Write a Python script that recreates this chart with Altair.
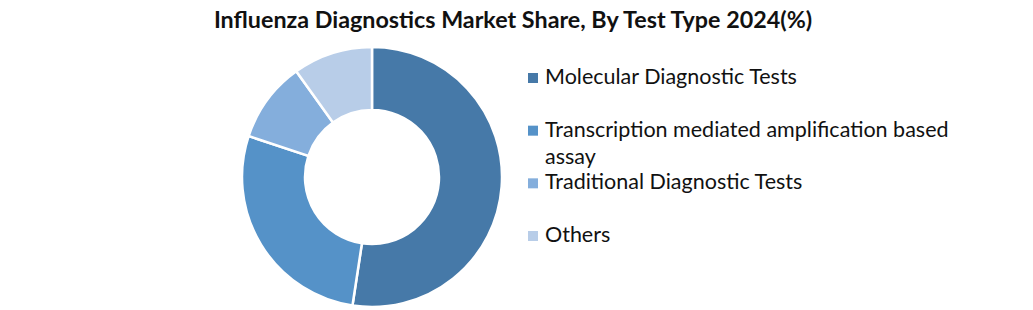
import altair as alt
import pandas as pd

categories = [
    "Molecular Diagnostic Tests",
    "Transcription mediated amplification based assay",
    "Traditional Diagnostic Tests",
    "Others",
]
legend_labels = [
    "Molecular Diagnostic Tests",
    "Transcription mediated amplification based\nassay",
    "Traditional Diagnostic Tests",
    "Others",
]
shares = [52.4, 27.7, 10.0, 9.9]
ranks = [1, 2, 3, 4]
colors = ["#4679A8", "#5592C8", "#84AEDC", "#B8CDE8"]

df = pd.DataFrame(
    {"category": categories, "label": legend_labels, "share": shares, "rank": ranks}
)

color_enc = alt.Color(
    "category:N",
    sort=categories,
    scale=alt.Scale(domain=categories, range=colors),
    legend=None,
)

base = alt.Chart(df)

donut = base.mark_arc(
    innerRadius=67, outerRadius=130, stroke="white", strokeWidth=2.5
).encode(
    theta=alt.Theta("share:Q", stack=True),
    order=alt.Order("rank:Q"),
    color=color_enc,
)

legend_y = alt.Y(
    "category:N",
    sort=categories,
    scale=alt.Scale(type="point", domain=categories, range=[38, 196], padding=0),
    axis=None,
)

legend_marks = base.mark_square(size=100, opacity=1).encode(
    x=alt.value(533),
    y=legend_y,
    color=color_enc,
)

legend_text = base.mark_text(
    align="left",
    baseline="middle",
    font="Lato",
    fontSize=21.5,
    color="#111111",
    lineBreak="\n",
    lineHeight=27.5,
).encode(
    x=alt.value(545),
    y=legend_y,
    text="label:N",
)

chart = (
    alt.layer(donut, legend_marks, legend_text)
    .properties(
        width=744,
        height=274,
        title=alt.Title(
            "Influenza Diagnostics Market Share, By Test Type 2024(%)",
            font="Lato",
            fontSize=23.3,
            fontWeight="bold",
            color="#111111",
            anchor="middle",
            dx=141,
            dy=-3,
        ),
        autosize=alt.AutoSizeParams(type="none"),
        padding={"left": 0, "top": 40, "right": 289, "bottom": 0},
    )
    .configure_view(stroke=None)
)

chart.save("out.html", embed_options={"renderer": "svg", "actions": False})
